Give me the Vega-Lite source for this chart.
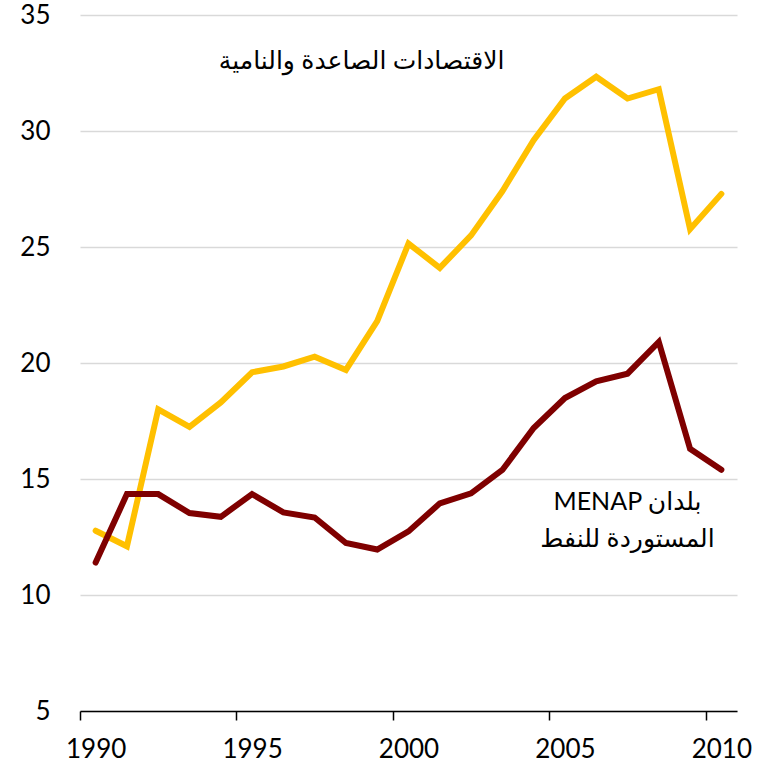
{
  "$schema": "https://vega.github.io/schema/vega-lite/v6.json",
  "width": 657,
  "height": 696,
  "autosize": {"type": "none"},
  "padding": {"left": 80, "top": 15, "right": 30, "bottom": 59},
  "background": "white",
  "config": {
    "view": {"stroke": null},
    "font": "Lato"
  },
  "datasets": {
    "series": [
      {"year": 1990, "group": "em", "value": 12.77},
      {"year": 1991, "group": "em", "value": 12.1},
      {"year": 1992, "group": "em", "value": 18.0},
      {"year": 1993, "group": "em", "value": 17.25},
      {"year": 1994, "group": "em", "value": 18.3},
      {"year": 1995, "group": "em", "value": 19.6},
      {"year": 1996, "group": "em", "value": 19.85},
      {"year": 1997, "group": "em", "value": 20.27},
      {"year": 1998, "group": "em", "value": 19.7},
      {"year": 1999, "group": "em", "value": 21.8},
      {"year": 2000, "group": "em", "value": 25.15},
      {"year": 2001, "group": "em", "value": 24.1},
      {"year": 2002, "group": "em", "value": 25.5},
      {"year": 2003, "group": "em", "value": 27.4},
      {"year": 2004, "group": "em", "value": 29.6},
      {"year": 2005, "group": "em", "value": 31.4},
      {"year": 2006, "group": "em", "value": 32.34},
      {"year": 2007, "group": "em", "value": 31.4},
      {"year": 2008, "group": "em", "value": 31.8},
      {"year": 2009, "group": "em", "value": 25.77},
      {"year": 2010, "group": "em", "value": 27.29},
      {"year": 1990, "group": "menap", "value": 11.4},
      {"year": 1991, "group": "menap", "value": 14.35},
      {"year": 1992, "group": "menap", "value": 14.35},
      {"year": 1993, "group": "menap", "value": 13.53},
      {"year": 1994, "group": "menap", "value": 13.37},
      {"year": 1995, "group": "menap", "value": 14.35},
      {"year": 1996, "group": "menap", "value": 13.56},
      {"year": 1997, "group": "menap", "value": 13.34},
      {"year": 1998, "group": "menap", "value": 12.24},
      {"year": 1999, "group": "menap", "value": 11.96},
      {"year": 2000, "group": "menap", "value": 12.74},
      {"year": 2001, "group": "menap", "value": 13.95},
      {"year": 2002, "group": "menap", "value": 14.38},
      {"year": 2003, "group": "menap", "value": 15.39},
      {"year": 2004, "group": "menap", "value": 17.2},
      {"year": 2005, "group": "menap", "value": 18.49},
      {"year": 2006, "group": "menap", "value": 19.21},
      {"year": 2007, "group": "menap", "value": 19.54},
      {"year": 2008, "group": "menap", "value": 20.91},
      {"year": 2009, "group": "menap", "value": 16.3},
      {"year": 2010, "group": "menap", "value": 15.4}
    ],
    "labels": [
      {"year": 1998.5, "value": 33.0, "label": "الاقتصادات الصاعدة والنامية"},
      {"year": 2007.0, "value": 14.02, "label": "MENAP بلدان"},
      {"year": 2007.0, "value": 12.42, "label": "المستوردة للنفط"}
    ]
  },
  "layer": [
    {
      "data": {"name": "series"},
      "mark": {"type": "line", "strokeWidth": 6, "strokeCap": "round", "strokeJoin": "miter"},
      "encoding": {
        "x": {
          "field": "year",
          "type": "quantitative",
          "scale": {"domain": [1989.5, 2010.5], "nice": false, "zero": false},
          "axis": {
            "title": null,
            "values": [1990, 1995, 2000, 2005, 2010],
            "format": "d",
            "grid": false,
            "domainColor": "#000000",
            "domainWidth": 1.5,
            "tickColor": "#000000",
            "tickWidth": 1.5,
            "tickSize": 9,
            "tickOffset": -15.64,
            "labelOffset": 15.64,
            "labelFontSize": 26,
            "labelFont": "Lato",
            "labelColor": "#000000",
            "labelPadding": 16,
            "labelFlush": false,
            "labelOverlap": false
          }
        },
        "y": {
          "field": "value",
          "type": "quantitative",
          "scale": {"domain": [5, 35], "nice": false, "zero": false},
          "axis": {
            "title": null,
            "values": [5, 10, 15, 20, 25, 30, 35],
            "domain": false,
            "ticks": false,
            "gridColor": "#d9d9d9",
            "gridWidth": 1.5,
            "labelFontSize": 26,
            "labelFont": "Lato",
            "labelColor": "#000000",
            "labelPadding": 30,
            "labelBaseline": "middle"
          }
        },
        "color": {
          "field": "group",
          "type": "nominal",
          "scale": {"domain": ["em", "menap"], "range": ["#FFC000", "#7F0000"]},
          "legend": null
        }
      }
    },
    {
      "data": {"name": "labels"},
      "mark": {"type": "text", "fontSize": 25, "font": "Lato, DejaVu Sans", "color": "#000000", "baseline": "middle", "align": "center"},
      "encoding": {
        "x": {"field": "year", "type": "quantitative"},
        "y": {"field": "value", "type": "quantitative"},
        "text": {"field": "label"}
      }
    }
  ]
}
